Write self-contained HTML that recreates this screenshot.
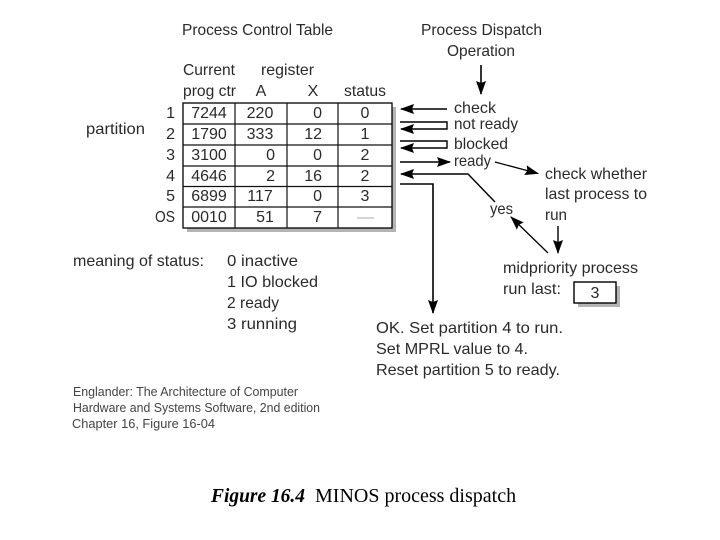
<!DOCTYPE html>
<html>
<head>
<meta charset="utf-8">
<style>
html,body{margin:0;padding:0;background:#fff}
svg{display:block}
text{font-family:"Liberation Sans",sans-serif;font-size:16px;fill:#2a2a2a}
.s{font-size:13px;fill:#444}
.m{text-anchor:middle}
.e{text-anchor:end}
</style>
</head>
<body>
<svg width="720" height="540" viewBox="0 0 720 540" xmlns="http://www.w3.org/2000/svg">
<defs>
<marker id="a" markerWidth="14" markerHeight="10" refX="13" refY="5" orient="auto" markerUnits="userSpaceOnUse"><path d="M0 0L14 5L0 10L2 5Z" fill="#000"/></marker>
</defs>

<text x="182" y="35" textLength="151" lengthAdjust="spacingAndGlyphs">Process Control Table</text>
<text x="421" y="35" textLength="121" lengthAdjust="spacingAndGlyphs">Process Dispatch</text>
<text x="447" y="56" textLength="68" lengthAdjust="spacingAndGlyphs">Operation</text>
<text x="183" y="75" textLength="52" lengthAdjust="spacingAndGlyphs">Current</text>
<text x="261" y="75" textLength="53" lengthAdjust="spacingAndGlyphs">register</text>
<text x="183" y="96" textLength="53" lengthAdjust="spacingAndGlyphs">prog ctr</text>
<text x="261" y="96" class="m">A</text>
<text x="313" y="96" class="m">X</text>
<text x="344" y="96" textLength="42" lengthAdjust="spacingAndGlyphs">status</text>
<text x="86" y="134" textLength="59" lengthAdjust="spacingAndGlyphs">partition</text>

<rect x="187" y="107" width="209" height="125" fill="#b4b4b4"/>
<rect x="183" y="103" width="209" height="125" fill="#fff" stroke="#000" stroke-width="1.300"/>
<path d="M183 124H392M183 145H392M183 166H392M183 186.500H392M183 207H392M235 103V228M287 103V228M338 103V228" stroke="#111" stroke-width="1.200" fill="none"/>

<g>
<text x="175" y="118" class="e">1</text><text x="209" y="118" class="m">7244</text><text x="260" y="118" class="m">220</text><text x="322" y="118" class="e">0</text><text x="365" y="118" class="m">0</text>
<text x="175" y="139" class="e">2</text><text x="209" y="139" class="m">1790</text><text x="260" y="139" class="m">333</text><text x="322" y="139" class="e">12</text><text x="365" y="139" class="m">1</text>
<text x="175" y="160" class="e">3</text><text x="209" y="160" class="m">3100</text><text x="275" y="160" class="e">0</text><text x="322" y="160" class="e">0</text><text x="365" y="160" class="m">2</text>
<text x="175" y="181" class="e">4</text><text x="209" y="181" class="m">4646</text><text x="275" y="181" class="e">2</text><text x="322" y="181" class="e">16</text><text x="365" y="181" class="m">2</text>
<text x="175" y="201" class="e">5</text><text x="209" y="201" class="m">6899</text><text x="260" y="201" class="m">117</text><text x="322" y="201" class="e">0</text><text x="365" y="201" class="m">3</text>
<text x="155" y="222" textLength="20" lengthAdjust="spacingAndGlyphs">OS</text><text x="209" y="222" class="m">0010</text><text x="265" y="222" class="m">51</text><text x="322" y="222" class="e">7</text>
</g>
<path d="M357 218H374" stroke="#aaa" stroke-width="1"/>

<path d="M481 65V94" stroke="#000" stroke-width="1.600" marker-end="url(#a)"/>
<path d="M447 109H401" stroke="#000" stroke-width="1.400" marker-end="url(#a)"/>
<path d="M400 122H447V129H401" stroke="#000" stroke-width="1.400" fill="none" marker-end="url(#a)"/>
<path d="M400 141H447V148H401" stroke="#000" stroke-width="1.400" fill="none" marker-end="url(#a)"/>
<path d="M400 162H450" stroke="#000" stroke-width="1.400" marker-end="url(#a)"/>
<path d="M495 162L538 173.500" stroke="#000" stroke-width="1.300" marker-end="url(#a)"/>
<path d="M495 202L468 174H401" stroke="#000" stroke-width="1.400" fill="none" marker-end="url(#a)"/>
<path d="M400 184H433V313" stroke="#000" stroke-width="1.600" fill="none" marker-end="url(#a)"/>
<path d="M548 253L511 217" stroke="#000" stroke-width="1.300" marker-end="url(#a)"/>
<path d="M558 226V253" stroke="#000" stroke-width="1.400" marker-end="url(#a)"/>

<text x="454" y="113" textLength="42" lengthAdjust="spacingAndGlyphs">check</text>
<text x="454" y="129" textLength="64" lengthAdjust="spacingAndGlyphs">not ready</text>
<text x="454" y="149" textLength="54" lengthAdjust="spacingAndGlyphs">blocked</text>
<text x="454" y="166" textLength="37" lengthAdjust="spacingAndGlyphs">ready</text>
<text x="545" y="179" textLength="102" lengthAdjust="spacingAndGlyphs">check whether</text>
<text x="545" y="199" textLength="102" lengthAdjust="spacingAndGlyphs">last process to</text>
<text x="545" y="220" textLength="22" lengthAdjust="spacingAndGlyphs">run</text>
<text x="490" y="214" textLength="23" lengthAdjust="spacingAndGlyphs">yes</text>
<text x="503" y="273" textLength="135" lengthAdjust="spacingAndGlyphs">midpriority process</text>
<text x="503" y="294" textLength="58" lengthAdjust="spacingAndGlyphs">run last:</text>

<rect x="578" y="286" width="42" height="21" fill="#b4b4b4"/>
<rect x="574" y="282" width="42" height="21" fill="#fff" stroke="#000" stroke-width="1.400"/>
<text x="595" y="298" class="m">3</text>

<text x="376" y="333" textLength="187" lengthAdjust="spacingAndGlyphs">OK. Set partition 4 to run.</text>
<text x="376" y="354" textLength="152" lengthAdjust="spacingAndGlyphs">Set MPRL value to 4.</text>
<text x="376" y="375" textLength="184" lengthAdjust="spacingAndGlyphs">Reset partition 5 to ready.</text>

<text x="73" y="266" textLength="131" lengthAdjust="spacingAndGlyphs">meaning of status:</text>
<text x="227" y="266" textLength="71" lengthAdjust="spacingAndGlyphs">0 inactive</text>
<text x="227" y="287" textLength="91" lengthAdjust="spacingAndGlyphs">1 IO blocked</text>
<text x="227" y="308" textLength="52" lengthAdjust="spacingAndGlyphs">2 ready</text>
<text x="227" y="329" textLength="70" lengthAdjust="spacingAndGlyphs">3 running</text>

<text x="73" y="396" class="s" textLength="225" lengthAdjust="spacingAndGlyphs">Englander: The Architecture of Computer</text>
<text x="73" y="412" class="s" textLength="247" lengthAdjust="spacingAndGlyphs">Hardware and Systems Software, 2nd edition</text>
<text x="72" y="428" class="s" textLength="143" lengthAdjust="spacingAndGlyphs">Chapter 16, Figure 16-04</text>

<text x="211" y="502" textLength="94" lengthAdjust="spacingAndGlyphs" style="font-family:'Liberation Serif',serif;font-size:20px;fill:#000" font-weight="bold" font-style="italic">Figure 16.4</text>
<text x="315" y="502" style="font-family:'Liberation Serif',serif;font-size:20px;fill:#000">MINOS process dispatch</text>
</svg>
</body>
</html>
